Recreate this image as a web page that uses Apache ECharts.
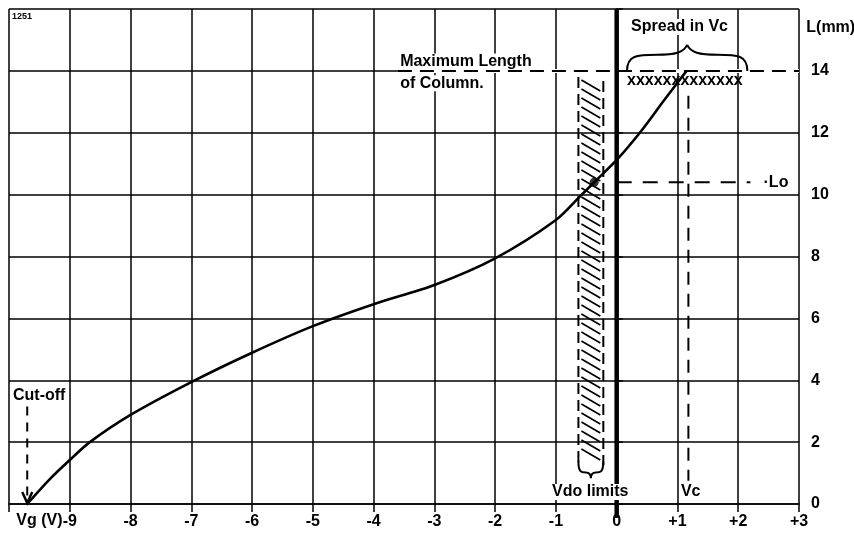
<!DOCTYPE html>
<html><head><meta charset="utf-8">
<script src="https://cdn.jsdelivr.net/npm/echarts@6/dist/echarts.min.js"></script>
<style>html,body{margin:0;padding:0;background:#fff}#c{width:854px;height:536px}</style>
</head><body><div id="c"></div>
<script>
// ---- data ----
const xRange = [-10, 3];
const yRange = [0, 16];
const curveX = [-9.7, -9.34, -9, -8.67, -8, -7, -6, -5, -4, -3, -2, -1, -0.6, -0.37, 0, 0.4, 0.78, 1.15];
const curveY = [0, 0.78, 1.42, 2, 2.88, 3.94, 4.89, 5.75, 6.46, 7.08, 7.94, 9.18, 9.95, 10.4, 11.12, 12.05, 13.05, 14];
const loPoint = [-0.37, 10.4];
const maxLength = 14;
const maxLengthX = [-3.6, 3];
const loValue = 10.4;
const loX = [0, 2.2];
const vcValue = 1.18;
const vcY = [13.2, 0.75];
const cutoffValue = -9.7;
const cutoffY = [3.15, 0];
const vdoX = [-0.63, -0.22];
const vdoY = [1.25, 13.8];
const spreadX = [0.17, 2.15];
const zeroLineX = 0;
const xTickLabels = { '-10': '', '0': '0', '1': '+1', '2': '+2', '3': '+3' };

// ---- annotation texts (anchored in data coordinates) ----
const notes = [
  { t: '1251', x: -9.95, y: 15.75, a: 'left', s: 9, bg: false },
  { t: 'Maximum Length', x: -3.58, y: 14.3, a: 'left', s: 16, bg: true },
  { t: 'of Column.', x: -3.58, y: 13.6, a: 'left', s: 16, bg: true },
  { t: 'Spread in Vc', x: 0.22, y: 15.42, a: 'left', s: 16, bg: true },
  { t: 'L(mm)', x: 3.12, y: 15.4, a: 'left', s: 16, bg: false },
  { t: 'xxxxxxxxxxxxx', x: 0.17, y: 13.68, a: 'left', s: 16, bg: false },
  { t: '·Lo', x: 2.4, y: 10.4, a: 'left', s: 16, bg: true },
  { t: 'Cut-off', x: -9.95, y: 3.52, a: 'left', s: 16, bg: true },
  { t: 'Vdo limits', x: -1.08, y: 0.39, a: 'left', s: 16, bg: true },
  { t: 'Vc', x: 1.04, y: 0.39, a: 'left', s: 16, bg: true },
  { t: 'Vg (V)', x: -9.12, y: -0.55, a: 'right', s: 16, bg: false }
];

const FONT = '"Liberation Sans", Arial, sans-serif';
const INK = '#000';
const chart = echarts.init(document.getElementById('c'), null, { renderer: 'canvas' });

function seg(pts, color, width, dash, z) {
  return {
    type: 'line', data: pts, symbol: 'none', silent: true, animation: false, z: z || 2,
    lineStyle: { color: color, width: width, type: dash || 'solid' }
  };
}

const option = {
  backgroundColor: '#fff',
  animation: false,
  grid: { left: 9, right: 55, top: 9, bottom: 32, containLabel: false },
  xAxis: {
    type: 'value', min: xRange[0], max: xRange[1], interval: 1,
    axisLine: { show: true, onZero: false, lineStyle: { color: INK, width: 1.6 } },
    axisTick: { show: true, length: 8, lineStyle: { color: INK, width: 1.5 } },
    axisLabel: {
      margin: 10, color: INK, fontSize: 16, fontWeight: 'bold', fontFamily: FONT,
      formatter: v => (String(v) in xTickLabels) ? xTickLabels[String(v)] : String(v)
    },
    splitLine: { show: true, lineStyle: { color: INK, width: 1.5 } }
  },
  yAxis: {
    type: 'value', min: yRange[0], max: yRange[1], interval: 2, position: 'right',
    axisLine: { show: true, lineStyle: { color: INK, width: 1.6 } },
    axisTick: { show: true, length: 6, lineStyle: { color: INK, width: 1.5 } },
    axisLabel: {
      margin: 12, color: INK, fontSize: 16, fontWeight: 'bold', fontFamily: FONT,
      formatter: v => v === yRange[1] ? '' : String(v)
    },
    splitLine: { show: true, lineStyle: { color: INK, width: 1.5 } }
  },
  series: [
    // hide the solid grid line where the "maximum length" dashed line runs
    seg(maxLengthX.map(x => [x, maxLength]), '#fff', 4, 'solid', 1),
    seg(maxLengthX.map(x => [x, maxLength]), INK, 2, [14, 8], 2),
    seg(loX.map(x => [x, loValue]), INK, 2, [15, 11], 2),
    seg(vcY.map(y => [vcValue, y]), INK, 2, [13, 9], 2),
    seg(cutoffY.map(y => [cutoffValue, y]), INK, 2, [9, 7], 2),
    // thick zero line
    {
      type: 'custom', silent: true, animation: false, z: 3,
      data: [[zeroLineX, yRange[1], yRange[0]]],
      renderItem: (params, api) => {
        const a = api.coord([api.value(0), api.value(1)]);
        const b = api.coord([api.value(0), api.value(2)]);
        return { type: 'line', shape: { x1: a[0], y1: a[1], x2: b[0], y2: b[1] + 14 },
          style: { stroke: INK, lineWidth: 4.5 } };
      }
    },
    // hatched "Vdo limits" column
    {
      type: 'custom', silent: true, animation: false, z: 3,
      data: [[vdoX[0], vdoX[1], vdoY[0], vdoY[1]]],
      renderItem: (params, api) => {
        const tl = api.coord([api.value(0), api.value(3)]);
        const br = api.coord([api.value(1), api.value(2)]);
        const ch = [];
        const ds = { stroke: INK, lineWidth: 2, lineDash: [11, 6] };
        ch.push({ type: 'line', shape: { x1: tl[0], y1: tl[1], x2: tl[0], y2: br[1] }, style: ds });
        ch.push({ type: 'line', shape: { x1: br[0], y1: tl[1] + 4, x2: br[0], y2: br[1] }, style: ds });
        for (let y = tl[1] + 3; y < br[1] - 11; y += 9) {
          ch.push({ type: 'line', shape: { x1: tl[0] + 3, y1: y, x2: br[0] - 3, y2: y + 11 },
            style: { stroke: INK, lineWidth: 1.6 } });
        }
        // brace under the column
        const w = br[0] - tl[0], x0 = tl[0], y0 = br[1], xm = x0 + w / 2, h = 13;
        const p = `M${x0},${y0 - 4} C${x0},${y0 + 0.5 * h} ${x0 + 0.1 * w},${y0 + 0.55 * h} ${x0 + 0.3 * w},${y0 + 0.55 * h}` +
          ` C${xm - 0.1 * w},${y0 + 0.55 * h} ${xm},${y0 + 0.6 * h} ${xm},${y0 + h}` +
          ` M${xm},${y0 + h} C${xm},${y0 + 0.6 * h} ${xm + 0.1 * w},${y0 + 0.55 * h} ${x0 + 0.7 * w},${y0 + 0.55 * h}` +
          ` C${x0 + 0.9 * w},${y0 + 0.55 * h} ${x0 + w},${y0 + 0.5 * h} ${x0 + w},${y0 - 4}`;
        ch.push({ type: 'path', shape: { pathData: p }, style: { stroke: INK, lineWidth: 2, fill: null } });
        return { type: 'group', children: ch };
      }
    },
    // spread brace
    {
      type: 'custom', silent: true, animation: false, z: 3,
      data: [[spreadX[0], spreadX[1], maxLength]],
      renderItem: (params, api) => {
        const a = api.coord([api.value(0), api.value(2)]);
        const b = api.coord([api.value(1), api.value(2)]);
        const x0 = a[0], y0 = a[1], w = b[0] - a[0], xm = x0 + w / 2, h = 26;
        const p = `M${x0},${y0} C${x0},${y0 - 0.6 * h} ${x0 + 0.08 * w},${y0 - 0.62 * h} ${x0 + 0.25 * w},${y0 - 0.62 * h}` +
          ` C${xm - 0.1 * w},${y0 - 0.62 * h} ${xm - 0.03 * w},${y0 - 0.7 * h} ${xm},${y0 - h}` +
          ` M${xm},${y0 - h} C${xm + 0.03 * w},${y0 - 0.7 * h} ${xm + 0.1 * w},${y0 - 0.62 * h} ${x0 + 0.75 * w},${y0 - 0.62 * h}` +
          ` C${x0 + 0.92 * w},${y0 - 0.62 * h} ${x0 + w},${y0 - 0.6 * h} ${x0 + w},${y0}`;
        return { type: 'path', shape: { pathData: p }, style: { stroke: INK, lineWidth: 2, fill: null } };
      }
    },
    // cut-off arrow head
    {
      type: 'custom', silent: true, animation: false, z: 4,
      data: [[cutoffValue, cutoffY[1]]],
      renderItem: (params, api) => {
        const p = api.coord([api.value(0), api.value(1)]);
        return { type: 'polyline', shape: { points: [[p[0] - 5, p[1] - 12], [p[0], p[1] - 1], [p[0] + 5, p[1] - 12]] },
          style: { stroke: INK, lineWidth: 2.5, fill: null } };
      }
    },
    // main curve
    {
      type: 'line', data: curveX.map((x, i) => [x, curveY[i]]), symbol: 'none', smooth: 0.3,
      silent: true, animation: false, z: 5, lineStyle: { color: INK, width: 2.6 }
    },
    {
      type: 'scatter', data: [loPoint], symbol: 'circle', symbolSize: 9, silent: true, animation: false, z: 6,
      itemStyle: { color: INK }
    },
    // texts
    {
      type: 'custom', silent: true, animation: false, z: 7,
      data: notes.map(n => [n.x, n.y]),
      renderItem: (params, api) => {
        const n = notes[params.dataIndex];
        const p = api.coord([api.value(0), api.value(1)]);
        const st = { text: n.t, fill: INK, fontSize: n.s, fontWeight: 'bold', fontFamily: FONT,
          align: n.a, verticalAlign: 'middle' };
        if (n.bg) { st.backgroundColor = '#fff'; st.padding = [0, 1]; }
        return { type: 'text', x: p[0], y: p[1], style: st };
      }
    }
  ]
};
chart.setOption(option);
</script>
</body></html>
